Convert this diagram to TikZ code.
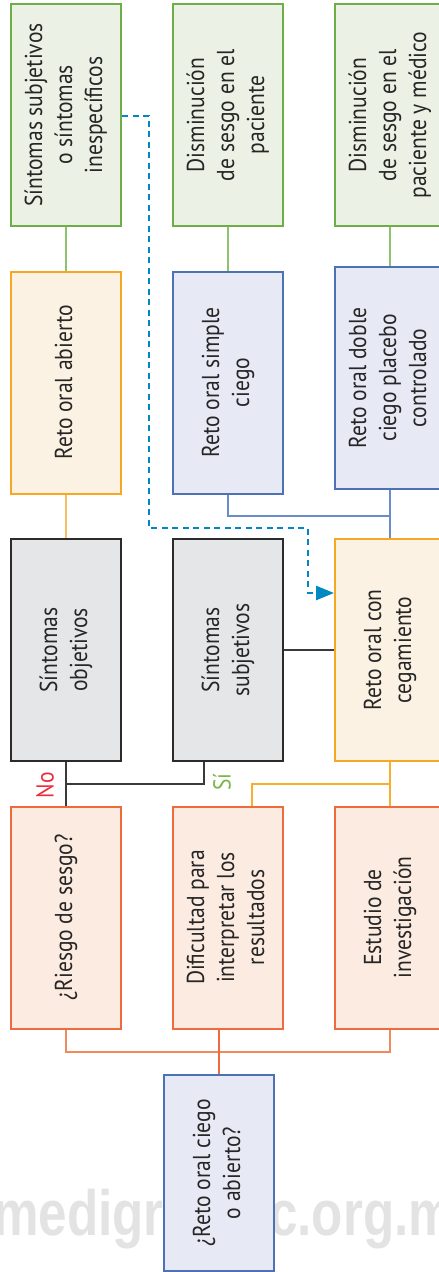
\documentclass[tikz,border=0pt]{standalone}
\usepackage{graphicx}
\usepackage{fontspec}
\setmainfont{PT Sans}[FakeStretch=0.88]
\newfontfamily\wmfont{Liberation Sans}[FakeStretch=0.8]
\usetikzlibrary{arrows.meta}
\definecolor{txt}{HTML}{262626}
\definecolor{grnB}{HTML}{6FAE46}\definecolor{grnF}{HTML}{EBF1E5}
\definecolor{orgB}{HTML}{F7A823}\definecolor{orgF}{HTML}{FCF2E3}
\definecolor{bluB}{HTML}{4C72B5}\definecolor{bluF}{HTML}{E7E9F5}
\definecolor{gryB}{HTML}{2B2B2B}\definecolor{gryF}{HTML}{E5E6E7}
\definecolor{redB}{HTML}{EF6A3C}\definecolor{redF}{HTML}{FCEBE1}
\definecolor{cGrn}{HTML}{8DC26F}\definecolor{cOrg}{HTML}{F9BE62}
\definecolor{cBlu}{HTML}{6C8CC7}\definecolor{cBlk}{HTML}{3A3A3A}
\definecolor{cYel}{HTML}{F7AD2E}\definecolor{cRedL}{HTML}{F08A5D}
\definecolor{cRed}{HTML}{EF6A3C}\definecolor{dashc}{HTML}{0088C2}
\definecolor{noc}{HTML}{EE2A3B}\definecolor{sic}{HTML}{7AB648}
\definecolor{wmc}{HTML}{E3E3E3}
\newcommand\vtext[1]{\rotatebox{90}{\begin{tabular}{@{}c@{}}#1\end{tabular}}}
\tikzset{
  box/.style={rectangle, minimum width=110pt, minimum height=222pt, inner sep=0pt,
    line width=2pt, text=txt, font=\fontsize{24.5}{30}\selectfont},
  gbox/.style={box, draw=grnB, fill=grnF},
  obox/.style={box, draw=orgB, fill=orgF},
  bbox/.style={box, draw=bluB, fill=bluF},
  kbox/.style={box, draw=gryB, fill=gryF, line width=2.4pt},
  rbox/.style={box, draw=redB, fill=redF},
  conn/.style={line width=1.2pt},
  yesno/.style={font=\fontsize{24.5}{30}\selectfont, rotate=90, inner sep=0pt},
}
\begin{document}
\begin{tikzpicture}[x=1pt, y=-1pt]
\useasboundingbox (0,0) rectangle (439,1272);
% watermark
\node[anchor=base west, inner sep=0pt, text=wmc, font=\wmfont\bfseries\fontsize{64}{64}\selectfont] (wm) at (-7,1235) {medigraphic.org.mx};
% row 1
\node[gbox] (g1) at (66,115) {\vtext{Síntomas subjetivos\\o síntomas\\inespecíficos}};
\node[gbox] (g2) at (228,115) {\vtext{Disminución\\de sesgo en el\\paciente}};
\node[gbox] (g3) at (390,115) {\vtext{Disminución\\de sesgo en el\\paciente y médico}};
% row 2
\node[obox] (o1) at (66,382.5) {\vtext{Reto oral abierto}};
\node[bbox] (b2) at (228,382.5) {\vtext{Reto oral simple\\ciego}};
\node[bbox] (b3) at (390,378) {\vtext{Reto oral doble\\ciego placebo\\controlado}};
% row 3
\node[kbox] (k1) at (66,650) {\vtext{Síntomas\\objetivos}};
\node[kbox] (k2) at (228,650) {\vtext{Síntomas\\subjetivos}};
\node[obox] (o3) at (390,650) {\vtext{Reto oral con\\cegamiento}};
% row 4
\node[rbox] (r1) at (66,917.5) {\vtext{¿Riesgo de sesgo?}};
\node[rbox] (r2) at (228,917.5) {\vtext{Dificultad para\\interpretar los\\resultados}};
\node[rbox] (r3) at (390,917.5) {\vtext{Estudio de\\investigación}};
% row 5
\node[bbox, minimum height=196pt] (q) at (219,1173) {\vtext{¿Reto oral ciego\\o abierto?}};
% labels
\node[yesno, text=noc] (no) at (45,785) {No};
\node[yesno, text=sic] (si) at (222,782) {Sí};
% junction coordinates
\coordinate (jb) at (390,516);
\coordinate (jk) at (66,784);
\coordinate (jy) at (390,784);
\coordinate (jr) at (390,1052);
% connectors
\draw[conn, cGrn] (g1.south) -- (o1.north);
\draw[conn, cGrn] (g2.south) -- (b2.north);
\draw[conn, cGrn] (g3.south) -- (b3.north);
\draw[conn, cOrg] (o1.south) -- (k1.north);
\draw[conn, cBlu] (b3.south) -- (o3.north);
\draw[conn, cBlu] (b2.south) |- (jb);
\draw[conn, cBlk] (k2.east) -- (o3.west);
\draw[conn, cBlk] (k1.south) -- (r1.north);
\draw[conn, cBlk] ([xshift=-24pt]k2.south) |- (jk);
\draw[conn, cYel] (o3.south) -- (r3.north);
\draw[conn, cYel] ([xshift=24pt]r2.north) |- (jy);
\draw[conn, cRedL] (r1.south) |- (jr) -- (r3.south);
\draw[conn, cRed] (q.north) -- (q.north |- r2.south);
% dashed arrow
\draw[dashc, line width=2.5pt, dash pattern=on 6pt off 4.5pt, -{Triangle[length=18pt, width=14pt]}]
  (g1.east |- 0,116) -- (149,116) -- (149,528) -- (308,528) -- (308,593) -- (o3.west |- 0,593);
\end{tikzpicture}
\end{document}
